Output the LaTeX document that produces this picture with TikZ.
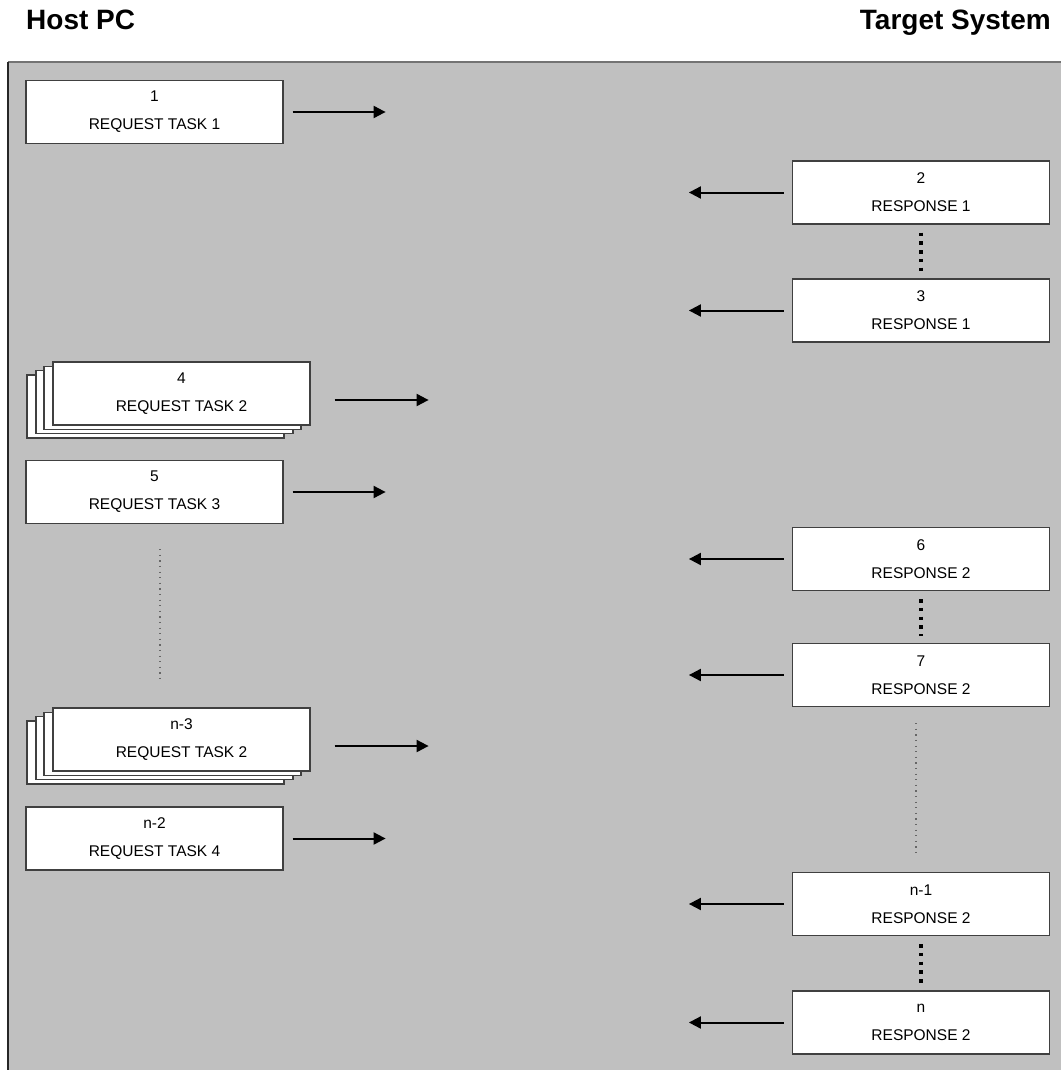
\documentclass[tikz,border=0pt]{standalone}
\usepackage{fontspec}
\setmainfont{Liberation Sans}
\usetikzlibrary{arrows.meta,shadows}
\definecolor{panelgray}{HTML}{C0C0C0}
\definecolor{boxline}{HTML}{404040}

\begin{document}
\begin{tikzpicture}[x=1pt,y=-1pt,
    box/.style={draw=boxline,line width=1.2pt,fill=white,minimum width=257pt,minimum height=63pt,
      inner sep=0pt,align=center,font=\fontsize{15.5}{28}\selectfont},
    sheet/.style={draw=boxline,line width=1.2pt,fill=white},
    stackbox/.style={box,
      copy shadow={sheet,shadow xshift=-26pt,shadow yshift=-13pt},
      copy shadow={sheet,shadow xshift=-17pt,shadow yshift=-8.5pt},
      copy shadow={sheet,shadow xshift=-9pt,shadow yshift=-4.5pt}},
    flow/.style={line width=2pt,-{Triangle[length=12pt,width=12pt]}},
    bigdots/.style={line width=3.5pt,dash pattern=on 3.5pt off 5.25pt},
    finedots/.style={draw=black!60,line width=1.4pt,dash pattern=on 1.2pt off 4.4pt},
    title/.style={font=\fontsize{28}{32}\selectfont\bfseries,inner sep=0pt}]
  \useasboundingbox (0,0) rectangle (1061,1070);

  \fill[panelgray] (8,62) rectangle (1061,1070);
  \draw[black!55,line width=2pt] (8,62) -- (1061,62);
  \draw[black!85,line width=2pt] (8,62) -- (8,1070);

  \node[title,anchor=base west] (host) at (26,30) {Host PC};
  \node[title,anchor=base east] (target) at (1051,30) {Target System};

  \node[box] (r1) at (154.5,112) {1\\REQUEST TASK 1};
  \node[box] (s2) at (921,192.5) {2\\RESPONSE 1};
  \node[box] (s3) at (921,310.5) {3\\RESPONSE 1};
  \node[stackbox] (r4) at (181.5,393.5) {4\\REQUEST TASK 2};
  \node[box] (r5) at (154.5,492) {5\\REQUEST TASK 3};
  \node[box] (s6) at (921,559) {6\\RESPONSE 2};
  \node[box] (s7) at (921,675) {7\\RESPONSE 2};
  \node[stackbox] (rn3) at (181.5,739.5) {n-3\\REQUEST TASK 2};
  \node[box] (rn2) at (154.5,838.5) {n-2\\REQUEST TASK 4};
  \node[box] (sn1) at (921,904) {n-1\\RESPONSE 2};
  \node[box] (sn) at (921,1022.5) {n\\RESPONSE 2};

  \draw[flow] ([xshift=9]r1.east) -- ++(93,0);
  \draw[flow] ([shift={(24,6.5)}]r4.east) -- ++(94,0);
  \draw[flow] ([xshift=9]r5.east) -- ++(93,0);
  \draw[flow] ([shift={(24,6.5)}]rn3.east) -- ++(94,0);
  \draw[flow] ([xshift=9]rn2.east) -- ++(93,0);
  \foreach \s in {s2,s3,s6,s7,sn1,sn}
    \draw[flow] ([xshift=-8]\s.west) -- ++(-95,0);

  \draw[bigdots] ([yshift=-8]s2.south) -- ([yshift=7]s3.north);
  \draw[bigdots] ([yshift=-8]s6.south) -- ([yshift=7]s7.north);
  \draw[bigdots] ([yshift=-8]sn1.south) -- ([yshift=7]sn.north);

  \draw[finedots] ([shift={(5.5,25)}]r5.south) -- ([shift={(-21.5,-25)}]rn3.north);
  \draw[finedots] ([shift={(-5,16)}]s7.south) -- ([shift={(-5,-17)}]sn1.north);
\end{tikzpicture}
\end{document}
